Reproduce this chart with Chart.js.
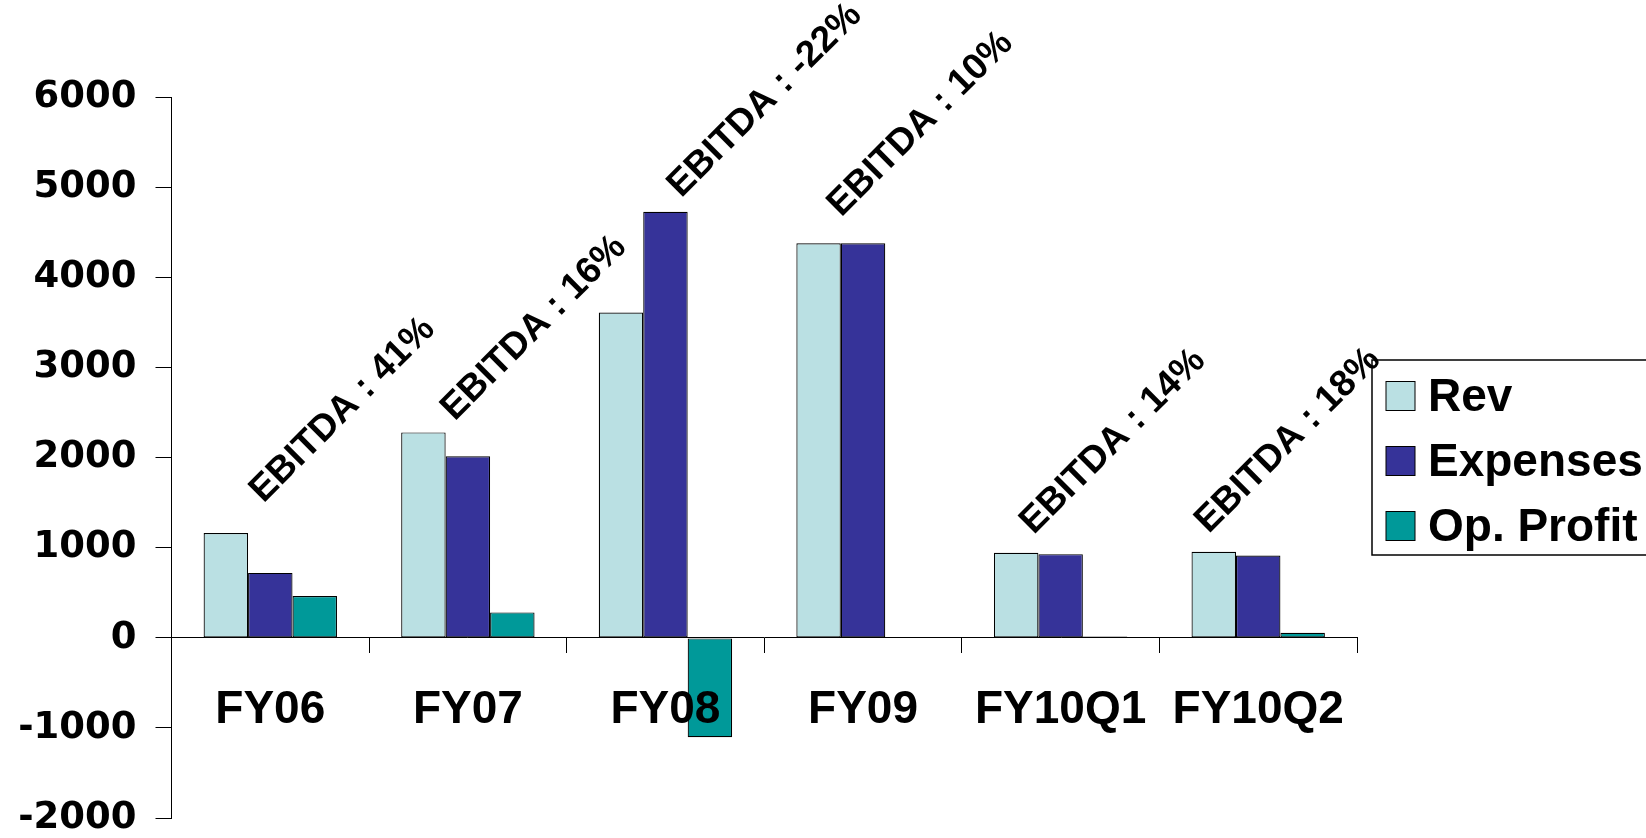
<!DOCTYPE html>
<html>
<head>
<meta charset="utf-8">
<title>Rev / Expenses / Op. Profit</title>
<script src="https://cdn.jsdelivr.net/npm/chart.js@4/dist/chart.umd.min.js"></script>
<style>
  html, body { margin: 0; padding: 0; background: #fff; }
  #wrap { width: 1646px; height: 838px; }
</style>
</head>
<body>
<div id="wrap"><canvas id="finChart"></canvas></div>
<script>
var categories = ['FY06', 'FY07', 'FY08', 'FY09', 'FY10Q1', 'FY10Q2'];
var revenue = [1165, 2282, 3613, 4383, 946, 957];
var expenses = [722, 2017, 4733, 4383, 930, 914];
var opProfit = [466, 283, -1104, 0, 15, 58];

var yMin = -2000;
var yMax = 6000;
var yStep = 1000;

var ebitdaLabels = ['EBITDA : 41%', 'EBITDA : 16%', 'EBITDA : -22%', 'EBITDA : 10%', 'EBITDA : 14%', 'EBITDA : 18%'];
// where each label starts: category position and value level
var ebitdaAt = [-0.035, 0.933, 2.08, 2.89, 3.864, 4.75];
var ebitdaLevel = [1490, 2400, 4880, 4667, 1140, 1150];

Chart.defaults.font.family = '"Liberation Sans", Arial, sans-serif';
Chart.defaults.color = '#000';

// rotated EBITDA notes above each group
var ebitdaPlugin = {
    id: 'ebitda',
    afterDatasetsDraw: function (chart) {
        var ctx = chart.ctx;
        var xs = chart.scales.x, ys = chart.scales.y;
        ctx.save();
        ctx.font = 'bold 37px "Liberation Sans", Arial, sans-serif';
        ctx.fillStyle = '#000';
        ctx.textAlign = 'left';
        ctx.textBaseline = 'alphabetic';
        ebitdaLabels.forEach(function (txt, i) {
            ctx.save();
            ctx.translate(xs.getPixelForValue(ebitdaAt[i]), ys.getPixelForValue(ebitdaLevel[i]));
            ctx.rotate(-Math.PI / 4);
            ctx.fillText(txt, 0, 0);
            ctx.restore();
        });
        ctx.restore();
    }
};

// boxed legend on the right, running off the edge like the original
var legendBox = {
    id: 'legendBox',
    afterDraw: function (chart) {
        var ctx = chart.ctx;
        var left = chart.chartArea.right + 15;
        var top = 360, h = 195;
        ctx.save();
        ctx.strokeStyle = '#000';
        ctx.lineWidth = 1.5;
        ctx.strokeRect(left, top, chart.width, h);
        ctx.font = 'bold 46px "Liberation Sans", Arial, sans-serif';
        ctx.textBaseline = 'middle';
        ctx.textAlign = 'left';
        chart.data.datasets.forEach(function (ds, i) {
            var cy = top + 36 + i * 65;
            ctx.fillStyle = ds.backgroundColor;
            ctx.fillRect(left + 14, cy - 14.5, 29, 29);
            ctx.lineWidth = 1;
            ctx.strokeRect(left + 14, cy - 14.5, 29, 29);
            ctx.fillStyle = '#000';
            ctx.fillText(ds.label, left + 56, cy + 2);
        });
        ctx.restore();
    }
};

var ctx = document.getElementById('finChart').getContext('2d');
var finChart = new Chart(ctx, {
    type: 'bar',
    data: {
        labels: categories,
        datasets: [
            { label: 'Rev', data: revenue, backgroundColor: '#BAE0E3' },
            { label: 'Expenses', data: expenses, backgroundColor: '#363399' },
            { label: 'Op. Profit', data: opProfit, backgroundColor: '#009999' }
        ]
    },
    options: {
        responsive: true,
        maintainAspectRatio: false,
        animation: false,
        layout: { padding: { top: 97.6, bottom: 20, left: 17.5, right: 289 } },
        datasets: {
            bar: {
                categoryPercentage: 0.675,
                barPercentage: 1.0,
                borderColor: '#000',
                borderWidth: 1.2,
                borderSkipped: false
            }
        },
        plugins: {
            legend: { display: false },
            tooltip: { enabled: false }
        },
        scales: {
            x: {
                position: { y: 0 },
                offset: true,
                grid: { offset: true, drawOnChartArea: false, tickLength: 15, color: '#000', lineWidth: 1 },
                border: { color: '#000', width: 1 },
                ticks: {
                    z: 1,
                    color: '#000',
                    padding: 30,
                    maxRotation: 0,
                    autoSkip: false,
                    font: { size: 46, weight: 'bold' }
                }
            },
            y: {
                min: yMin,
                max: yMax,
                grid: { drawOnChartArea: false, tickLength: 16, color: '#000', lineWidth: 1 },
                border: { color: '#000', width: 1 },
                ticks: {
                    stepSize: yStep,
                    color: '#000',
                    padding: 19,
                    font: { family: '"DejaVu Sans", sans-serif', size: 37, weight: 'bold', lineHeight: 1 },
                    callback: function (v) { return String(v); }
                },
                afterFit: function (s) {
                    s.width = 154;
                    s.paddingTop = 0;
                    s.paddingBottom = 0;
                }
            }
        }
    },
    plugins: [ebitdaPlugin, legendBox]
});
</script>
</body>
</html>
